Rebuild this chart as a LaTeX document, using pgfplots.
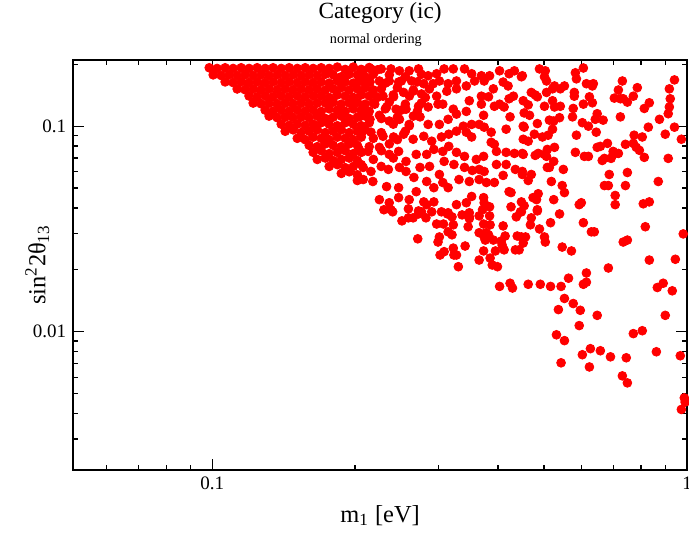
\documentclass[border=0pt]{standalone}
\usepackage{pgfplots}
\pgfplotsset{compat=1.18}
\usetikzlibrary{calc}
\usepackage{fontspec}
\setmainfont{Liberation Serif}
\definecolor{pr}{RGB}{255,0,0}
\begin{document}
\begin{tikzpicture}
\begin{axis}[
 name=ax, scale only axis, width=306.85pt, height=205pt,
 xmode=log, ymode=log, xmin=0.051, xmax=1, ymin=0.00212, ymax=0.21,
 xtick={0.1,1}, xticklabels={0.1,1},
 ytick={0.01,0.1}, yticklabels={0.01,0.1},
 minor xtick={0.06,0.07,0.08,0.09,0.2,0.3,0.4,0.5,0.6,0.7,0.8,0.9},
 minor ytick={0.003,0.004,0.005,0.006,0.007,0.008,0.009,0.02,0.03,0.04,0.05,0.06,0.07,0.08,0.09,0.2},
 tick align=inside, major tick length=5.3pt, minor tick length=2.5pt,
 axis line style={line width=1pt},
 every tick/.style={black, line width=0.6pt},
 tick label style={font=\fontsize{9.5}{11}\selectfont},
 /pgf/number format/assume math mode=true,
 clip=true,
]
\coordinate (tc) at (rel axis cs:0.5,1);
\coordinate (sc) at (rel axis cs:0.493,1);
\addplot[only marks, mark=*, mark size=2.2pt, color=pr, mark options={fill=pr, draw=pr}] table {
x y
0.0986 0.1925
0.1024 0.1910
0.1065 0.1925
0.1107 0.1910
0.1151 0.1925
0.1196 0.1910
0.1244 0.1925
0.1293 0.1910
0.1344 0.1925
0.1398 0.1910
0.1453 0.1925
0.1511 0.1910
0.1570 0.1925
0.1632 0.1910
0.1697 0.1925
0.1764 0.1910
0.1835 0.1940
0.1907 0.1890
0.1983 0.1940
0.2061 0.1890
0.2142 0.1930
0.2228 0.1880
0.1005 0.1778
0.1045 0.1765
0.1086 0.1778
0.1129 0.1765
0.1173 0.1778
0.1220 0.1765
0.1268 0.1778
0.1318 0.1765
0.1371 0.1778
0.1425 0.1765
0.1481 0.1778
0.1540 0.1765
0.1601 0.1778
0.1665 0.1765
0.1731 0.1790
0.1799 0.1778
0.1871 0.1740
0.1944 0.1790
0.2022 0.1778
0.2101 0.1740
0.2185 0.1790
0.2361 0.1778
0.2552 0.1740
0.2758 0.1790
0.1065 0.1643
0.1107 0.1630
0.1151 0.1643
0.1196 0.1630
0.1244 0.1643
0.1293 0.1630
0.1344 0.1643
0.1398 0.1630
0.1453 0.1643
0.1511 0.1630
0.1570 0.1643
0.1632 0.1630
0.1697 0.1643
0.1764 0.1620
0.1835 0.1660
0.1907 0.1643
0.1983 0.1620
0.2061 0.1660
0.2142 0.1643
0.2316 0.1620
0.2503 0.1660
0.2705 0.1643
0.1129 0.1518
0.1173 0.1505
0.1220 0.1518
0.1268 0.1505
0.1318 0.1518
0.1371 0.1505
0.1425 0.1518
0.1481 0.1505
0.1540 0.1518
0.1601 0.1505
0.1665 0.1518
0.1731 0.1500
0.1799 0.1518
0.1871 0.1540
0.1944 0.1500
0.2022 0.1518
0.2101 0.1540
0.2185 0.1500
0.2271 0.1518
0.2455 0.1540
0.2653 0.1500
0.2867 0.1518
0.1196 0.1403
0.1244 0.1390
0.1293 0.1403
0.1344 0.1390
0.1398 0.1403
0.1453 0.1390
0.1511 0.1403
0.1570 0.1390
0.1632 0.1403
0.1697 0.1403
0.1764 0.1380
0.1835 0.1420
0.1907 0.1403
0.1983 0.1380
0.2061 0.1420
0.2142 0.1403
0.2228 0.1380
0.2407 0.1420
0.2602 0.1403
0.2812 0.1380
0.1220 0.1296
0.1268 0.1285
0.1318 0.1296
0.1371 0.1285
0.1425 0.1296
0.1481 0.1285
0.1540 0.1296
0.1601 0.1285
0.1665 0.1296
0.1731 0.1296
0.1799 0.1310
0.1871 0.1280
0.1944 0.1296
0.2022 0.1310
0.2101 0.1280
0.2185 0.1296
0.2361 0.1310
0.2552 0.1280
0.2758 0.1296
0.1293 0.1198
0.1344 0.1185
0.1398 0.1198
0.1453 0.1185
0.1511 0.1198
0.1570 0.1185
0.1632 0.1198
0.1697 0.1180
0.1764 0.1215
0.1835 0.1198
0.1907 0.1180
0.1983 0.1215
0.2061 0.1198
0.2142 0.1180
0.2316 0.1215
0.2503 0.1198
0.2705 0.1180
0.1318 0.1120
0.1371 0.1100
0.1425 0.1107
0.1481 0.1100
0.1540 0.1107
0.1601 0.1100
0.1665 0.1120
0.1731 0.1090
0.1799 0.1107
0.1871 0.1120
0.1944 0.1090
0.2022 0.1107
0.2101 0.1120
0.2271 0.1090
0.2455 0.1107
0.2653 0.1120
0.1398 0.1023
0.1453 0.1010
0.1511 0.1023
0.1570 0.1010
0.1632 0.1023
0.1697 0.1040
0.1764 0.1023
0.1835 0.1005
0.1907 0.1040
0.1983 0.1023
0.2061 0.1005
0.2142 0.1040
0.2407 0.1023
0.2602 0.1005
0.1425 0.0945
0.1481 0.0960
0.1540 0.0930
0.1601 0.0945
0.1665 0.0960
0.1731 0.0930
0.1799 0.0945
0.1871 0.0960
0.1944 0.0930
0.2022 0.0945
0.2101 0.0960
0.2271 0.0930
0.2552 0.0945
0.1511 0.0873
0.1570 0.0860
0.1632 0.0885
0.1697 0.0873
0.1764 0.0860
0.1835 0.0885
0.1907 0.0873
0.1983 0.0860
0.2061 0.0885
0.2185 0.0873
0.2455 0.0860
0.1601 0.0807
0.1665 0.0795
0.1731 0.0820
0.1799 0.0807
0.1871 0.0795
0.1944 0.0820
0.2022 0.0807
0.2142 0.0795
0.2361 0.0820
0.1632 0.0746
0.1697 0.0760
0.1764 0.0735
0.1835 0.0746
0.1907 0.0760
0.1983 0.0735
0.2061 0.0746
0.2271 0.0760
0.1665 0.0689
0.1731 0.0700
0.1799 0.0680
0.1871 0.0689
0.1944 0.0700
0.2022 0.0680
0.2185 0.0689
0.2407 0.0700
0.1764 0.0637
0.1835 0.0650
0.1907 0.0628
0.1983 0.0637
0.2061 0.0650
0.1871 0.0589
0.1944 0.0600
0.2022 0.0580
0.2022 0.0544
0.208 0.186
0.216 0.190
0.227 0.190
0.238 0.190
0.248 0.186
0.260 0.186
0.272 0.190
0.285 0.176
0.297 0.180
0.308 0.190
0.322 0.190
0.340 0.190
0.352 0.180
0.369 0.176
0.384 0.176
0.403 0.186
0.422 0.180
0.448 0.174
0.433 0.186
0.204 0.166
0.215 0.164
0.225 0.166
0.236 0.166
0.247 0.164
0.263 0.166
0.279 0.161
0.292 0.161
0.301 0.166
0.314 0.161
0.327 0.166
0.343 0.157
0.357 0.166
0.374 0.166
0.391 0.152
0.410 0.164
0.420 0.157
0.206 0.1435
0.218 0.146
0.229 0.140
0.241 0.139
0.253 0.146
0.265 0.148
0.276 0.1435
0.297 0.140
0.312 0.148
0.327 0.152
0.348 0.133
0.369 0.140
0.382 0.139
0.403 0.128
0.422 0.136
0.431 0.140
0.393 0.125
0.412 0.124
0.208 0.125
0.220 0.128
0.233 0.124
0.244 0.121
0.256 0.121
0.272 0.125
0.285 0.124
0.299 0.128
0.306 0.128
0.322 0.121
0.343 0.118
0.369 0.128
0.424 0.111
0.373 0.113
0.204 0.111
0.215 0.108
0.225 0.113
0.236 0.106
0.248 0.108
0.260 0.102
0.274 0.111
0.285 0.102
0.301 0.102
0.314 0.108
0.327 0.1145
0.338 0.100
0.352 0.102
0.365 0.102
0.374 0.0989
0.416 0.0967
0.452 0.100
0.206 0.0914
0.216 0.0935
0.229 0.0893
0.241 0.0886
0.253 0.0914
0.265 0.0864
0.279 0.0893
0.290 0.0845
0.304 0.0886
0.315 0.0914
0.327 0.0946
0.343 0.0935
0.352 0.0886
0.387 0.0935
0.387 0.0835
0.393 0.0816
0.204 0.0771
0.213 0.0754
0.225 0.0789
0.236 0.0729
0.247 0.0754
0.256 0.0674
0.269 0.0729
0.283 0.0729
0.293 0.0771
0.306 0.0754
0.315 0.0798
0.327 0.0746
0.340 0.0713
0.360 0.0689
0.373 0.0713
0.397 0.0754
0.416 0.0746
0.433 0.0737
0.450 0.0737
0.208 0.0630
0.216 0.0602
0.227 0.0637
0.235 0.0616
0.248 0.0630
0.256 0.0602
0.274 0.0630
0.287 0.0637
0.301 0.0582
0.308 0.0674
0.323 0.0651
0.340 0.0630
0.353 0.0609
0.365 0.0616
0.374 0.0602
0.397 0.0651
0.416 0.0651
0.410 0.0576
0.435 0.0616
0.450 0.0602
0.208 0.0550
0.218 0.0538
0.233 0.0508
0.247 0.0502
0.266 0.0563
0.269 0.0480
0.283 0.0538
0.293 0.0502
0.306 0.0532
0.314 0.0502
0.331 0.0550
0.348 0.0538
0.365 0.0550
0.378 0.0532
0.393 0.0532
0.422 0.0480
0.426 0.0475
0.225 0.0439
0.236 0.0424
0.247 0.0449
0.260 0.0439
0.279 0.0428
0.283 0.0415
0.293 0.0428
0.304 0.0383
0.327 0.0415
0.343 0.0424
0.352 0.0455
0.373 0.0449
0.374 0.0424
0.384 0.0405
0.426 0.0405
0.448 0.0383
0.238 0.0392
0.259 0.0396
0.272 0.0387
0.314 0.0379
0.348 0.0379
0.448 0.0428
0.230 0.0392
0.240 0.0383
0.251 0.0346
0.259 0.0358
0.265 0.0358
0.272 0.0374
0.276 0.0383
0.282 0.0358
0.290 0.0383
0.271 0.0283
0.297 0.0334
0.307 0.0334
0.322 0.0331
0.313 0.0374
0.320 0.0362
0.314 0.0306
0.320 0.0296
0.301 0.0289
0.299 0.0273
0.308 0.0245
0.302 0.0236
0.322 0.0255
0.323 0.0236
0.489 0.190
0.503 0.186
0.501 0.174
0.506 0.166
0.605 0.192
0.582 0.182
0.585 0.170
0.450 0.176
0.526 0.157
0.521 0.152
0.552 0.157
0.541 0.152
0.614 0.161
0.632 0.157
0.506 0.146
0.470 0.146
0.479 0.142
0.484 0.139
0.452 0.133
0.463 0.127
0.501 0.125
0.521 0.133
0.526 0.124
0.541 0.125
0.579 0.146
0.579 0.140
0.623 0.139
0.632 0.130
0.605 0.128
0.576 0.122
0.574 0.111
0.602 0.104
0.620 0.100
0.641 0.108
0.647 0.115
0.666 0.107
0.644 0.0935
0.585 0.0904
0.647 0.0789
0.657 0.0798
0.680 0.0825
0.663 0.0681
0.670 0.0697
0.692 0.0697
0.699 0.0729
0.717 0.0737
0.699 0.0754
0.608 0.0713
0.620 0.0713
0.582 0.0746
0.526 0.0789
0.510 0.0904
0.521 0.0967
0.513 0.107
0.524 0.106
0.539 0.110
0.496 0.0886
0.477 0.0914
0.463 0.0845
0.452 0.0864
0.454 0.116
0.466 0.113
0.484 0.103
0.454 0.0989
0.452 0.0729
0.479 0.0721
0.486 0.0737
0.501 0.0729
0.508 0.0771
0.506 0.0713
0.524 0.0674
0.508 0.0630
0.513 0.0630
0.549 0.0616
0.470 0.0582
0.463 0.0544
0.518 0.0538
0.546 0.0514
0.552 0.0475
0.486 0.0469
0.474 0.0449
0.482 0.0439
0.450 0.0582
0.524 0.0439
0.454 0.0410
0.484 0.0392
0.593 0.0415
0.599 0.0424
0.670 0.0514
0.683 0.0514
0.686 0.0582
0.706 0.0460
0.706 0.0415
0.742 0.0514
0.749 0.0595
0.742 0.0816
0.771 0.0825
0.782 0.0789
0.794 0.0763
0.813 0.0705
0.805 0.0886
0.774 0.0904
0.829 0.0989
0.875 0.108
0.913 0.115
0.918 0.124
0.900 0.0914
0.941 0.0989
0.973 0.0864
0.913 0.0697
0.870 0.0538
0.809 0.0419
0.833 0.0428
0.941 0.168
0.918 0.152
0.922 0.136
0.833 0.130
0.813 0.122
0.786 0.154
0.771 0.140
0.749 0.131
0.731 0.166
0.717 0.150
0.724 0.136
0.734 0.136
0.703 0.137
0.724 0.111
0.635 0.161
0.336 0.0370
0.348 0.0362
0.348 0.0355
0.365 0.0366
0.384 0.0366
0.371 0.0392
0.437 0.0362
0.446 0.0383
0.470 0.0358
0.484 0.0387
0.539 0.0374
0.346 0.0324
0.373 0.0334
0.385 0.0331
0.410 0.0327
0.468 0.0331
0.489 0.0316
0.516 0.0339
0.605 0.0339
0.629 0.0306
0.638 0.0306
0.817 0.0324
0.982 0.0299
0.365 0.0303
0.378 0.0303
0.374 0.0289
0.382 0.0296
0.376 0.0279
0.391 0.0279
0.406 0.0276
0.414 0.0292
0.439 0.0292
0.448 0.0289
0.457 0.0289
0.452 0.0270
0.501 0.0289
0.503 0.0273
0.408 0.0264
0.412 0.0250
0.435 0.0250
0.443 0.0250
0.395 0.0247
0.373 0.0247
0.341 0.0261
0.546 0.0258
0.571 0.0247
0.734 0.0273
0.749 0.0279
0.327 0.0236
0.365 0.0223
0.385 0.0228
0.389 0.0211
0.399 0.0207
0.330 0.0207
0.833 0.0223
0.945 0.0225
0.683 0.0204
0.614 0.0193
0.563 0.0182
0.614 0.0174
0.605 0.0170
0.403 0.0166
0.424 0.0172
0.429 0.0163
0.463 0.0170
0.491 0.0170
0.516 0.0166
0.543 0.0166
0.866 0.0164
0.891 0.0172
0.931 0.0158
0.552 0.0145
0.576 0.0137
0.536 0.0128
0.596 0.0127
0.647 0.0120
0.900 0.0120
0.593 0.0107
0.531 0.00965
0.552 0.00904
0.771 0.00978
0.805 0.0101
0.626 0.00826
0.602 0.00772
0.657 0.00807
0.690 0.00754
0.745 0.00746
0.862 0.00798
0.968 0.00763
0.543 0.00705
0.623 0.00673
0.731 0.00609
0.749 0.00563
0.987 0.00476
0.991 0.00454
0.973 0.00418
};
\end{axis}
\node[anchor=base, font=\fontsize{11.6}{13}\selectfont] at ([yshift=20.8pt]tc) {Category (ic)};
\node[anchor=base, font=\fontsize{7.1}{8}\selectfont] at ([yshift=8.3pt]sc) {normal ordering};
\node[anchor=base, font=\fontsize{12.2}{14}\selectfont] at ([yshift=-26pt]ax.south) {m\textsubscript{1} [eV]};
\node[rotate=90, anchor=center, font=\fontsize{12.2}{14}\selectfont] at ([xshift=-18pt]ax.west) {sin\textsuperscript{2}2θ\textsubscript{13}};
\pgfresetboundingbox
\path ([xshift=-36.65pt,yshift=-33pt]ax.south west) rectangle ([xshift=1pt,yshift=30pt]ax.north east);
\end{tikzpicture}
\end{document}
